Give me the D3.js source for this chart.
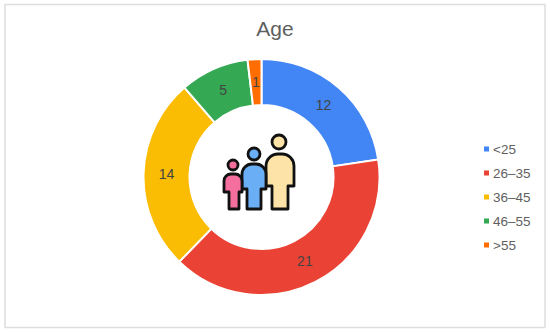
<!DOCTYPE html>
<html>
<head>
<meta charset="utf-8">
<script src="https://cdn.jsdelivr.net/npm/d3@7"></script>
<style>
  html, body { margin: 0; padding: 0; background: #fff; }
  text { font-family: "Liberation Sans", Arial, sans-serif; }
</style>
</head>
<body>
<div id="chart"></div>
<script>
let categories = ["<25", "26–35", "36–45", "46–55", ">55"];
let values = [12, 21, 14, 5, 1];
let colors = ["#4285f4", "#ea4335", "#fbbc04", "#34a853", "#ff6d01"];

let svgWidth = 550;
let svgHeight = 333;

let svg = d3.select("#chart").append("svg")
  .attr("width", svgWidth)
  .attr("height", svgHeight)
  .style("display", "block");

// frame round the chart
svg.append("rect")
  .attr("x", 5).attr("y", 4.5)
  .attr("width", 540).attr("height", 323)
  .attr("fill", "#fff")
  .attr("stroke", "#dddddd")
  .attr("stroke-width", 1.5);

svg.append("text")
  .attr("x", 275).attr("y", 36)
  .attr("text-anchor", "middle")
  .attr("font-size", 21)
  .attr("fill", "#5f5f5f")
  .text("Age");

let pie = d3.pie().sort(null)(values);
let arc = d3.arc().innerRadius(72).outerRadius(118);
let labelArc = d3.arc().innerRadius(95).outerRadius(95);

let donut = svg.append("g").attr("transform", "translate(261.5, 177)");

donut.selectAll("path")
  .data(pie)
  .enter()
  .append("path")
  .attr("d", arc)
  .attr("fill", (d, i) => colors[i])
  .attr("stroke", "#fff")
  .attr("stroke-width", 2);

donut.selectAll("text")
  .data(pie)
  .enter()
  .append("text")
  .attr("transform", d => `translate(${labelArc.centroid(d)})`)
  .attr("text-anchor", "middle")
  .attr("dy", "0.35em")
  .attr("font-size", 14)
  .attr("fill", "#444")
  .text(d => d.data);

// legend
let legendY = d3.scalePoint().domain(categories).range([149, 245]);
let legend = svg.selectAll(".legend")
  .data(categories)
  .enter()
  .append("g")
  .attr("class", "legend")
  .attr("transform", d => `translate(484, ${legendY(d)})`);

legend.append("rect")
  .attr("x", 0).attr("y", -2.5)
  .attr("width", 5).attr("height", 5)
  .attr("fill", (d, i) => colors[i]);

legend.append("text")
  .attr("x", 9)
  .attr("dy", "0.36em")
  .attr("font-size", 13.5)
  .attr("fill", "#5f5f5f")
  .text(d => d);

// family icon in the hole
let people = [
  { head: [279, 142], r: 7, left: 266, right: 294, top: 154, waist: 186, legL: 272, legR: 288, fill: "#fde3a7" },
  { head: [254, 154], r: 6, left: 242, right: 266, top: 164, waist: 189, legL: 247, legR: 261, fill: "#6aaef5" },
  { head: [233, 165], r: 5, left: 224, right: 242, top: 174, waist: 192, legL: 229, legR: 239, fill: "#f56f9e" }
];
let icon = svg.append("g")
  .attr("stroke", "#111")
  .attr("stroke-width", 2.8)
  .attr("stroke-linejoin", "round");

people.forEach(p => {
  let cr = (p.right - p.left) / 2 - 2;
  let path = d3.path();
  path.moveTo(p.left, p.waist);
  path.lineTo(p.left, p.top + cr);
  path.arcTo(p.left, p.top, p.left + cr, p.top, cr);
  path.lineTo(p.right - cr, p.top);
  path.arcTo(p.right, p.top, p.right, p.top + cr, cr);
  path.lineTo(p.right, p.waist);
  path.lineTo(p.legR, p.waist);
  path.lineTo(p.legR, 209);
  path.lineTo(p.legL, 209);
  path.lineTo(p.legL, p.waist);
  path.closePath();
  icon.append("path").attr("d", path.toString()).attr("fill", p.fill);
  icon.append("circle")
    .attr("cx", p.head[0]).attr("cy", p.head[1]).attr("r", p.r)
    .attr("fill", p.fill);
});
</script>
</body>
</html>
